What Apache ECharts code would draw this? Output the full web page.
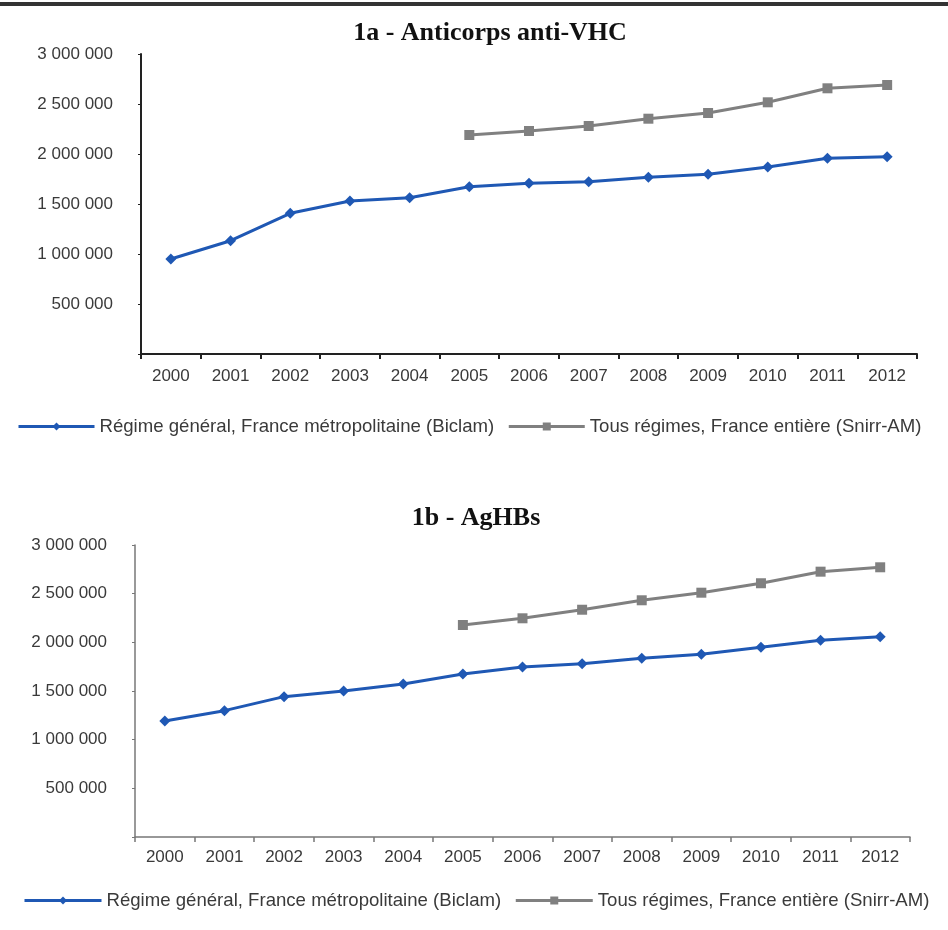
<!DOCTYPE html>
<html>
<head>
<meta charset="utf-8">
<script src="https://cdn.jsdelivr.net/npm/echarts@6/dist/echarts.min.js"></script>
<style>
html,body{margin:0;padding:0;background:#fff;}
#main{width:948px;height:930px;}
</style>
</head>
<body>
<div id="main"></div>
<script>
var years = ['2000','2001','2002','2003','2004','2005','2006','2007','2008','2009','2010','2011','2012'];
var titleA = '1a - Anticorps anti-VHC';
var titleB = '1b - AgHBs';
var nameBlue = 'Régime général, France métropolitaine (Biclam)';
var nameGrey = 'Tous régimes, France entière (Snirr-AM)';
// 1a - Anticorps anti-VHC
var aBiclam = [950000, 1133000, 1407000, 1530000, 1563000, 1673000, 1707000, 1723000, 1767000, 1797000, 1870000, 1957000, 1973000];
var aSnirr  = [null, null, null, null, null, 2190000, 2230000, 2280000, 2353000, 2410000, 2517000, 2657000, 2690000];
// 1b - AgHBs
var bBiclam = [1192000, 1298000, 1442000, 1500000, 1572000, 1675000, 1747000, 1781000, 1836000, 1877000, 1949000, 2021000, 2058000];
var bSnirr  = [null, null, null, null, null, 2178000, 2247000, 2335000, 2432000, 2510000, 2607000, 2726000, 2771000];
var yMin = 0, yMax = 3000000, yStep = 500000;

function fmt(v){
  if (v === 0) return '';
  return String(v).replace(/\B(?=(\d{3})+(?!\d))/g, ' ');
}
var BLUE = '#1f58b4', GREY = '#808080';
var txt = {color:'#3a3a3a', fontFamily:'Liberation Sans', fontSize:17};

function xAx(gi, axisColor, w, margin){
  return {type:'category', gridIndex:gi, data:years, boundaryGap:true,
    axisLine:{lineStyle:{color:axisColor, width:w}},
    axisTick:{show:true, length:5, lineStyle:{color:axisColor, width:w}},
    axisLabel:Object.assign({margin:margin}, txt)};
}
function yAx(gi, axisColor, w){
  return {type:'value', gridIndex:gi, min:yMin, max:yMax, interval:yStep,
    splitLine:{show:false},
    axisLine:{show:true, lineStyle:{color:axisColor, width:w}},
    axisTick:{show:true, length:3, lineStyle:{color:axisColor, width:1}},
    axisLabel:Object.assign({margin:28, formatter:fmt}, txt)};
}
function ser(name, data, gi, color, sym, size){
  return {name:name, type:'line', xAxisIndex:gi, yAxisIndex:gi, data:data,
    symbol:sym, symbolSize:size, showSymbol:true, connectNulls:false,
    lineStyle:{color:color, width:3}, itemStyle:{color:color}, z:3, animation:false};
}
var legTxt = Object.assign({}, txt, {fontSize:18.6});
var chart = echarts.init(document.getElementById('main'));
chart.setOption({
  animation:false,
  backgroundColor:'#fff',
  title:[
    {text:titleA, left:490, textAlign:'center', top:20, padding:0, textStyle:{fontFamily:'Liberation Serif', fontWeight:'bold', fontSize:26, color:'#111'}},
    {text:titleB, left:476, textAlign:'center', top:505, padding:0, textStyle:{fontFamily:'Liberation Serif', fontWeight:'bold', fontSize:26, color:'#111'}}
  ],
  graphic:[{type:'rect', shape:{x:0, y:2, width:948, height:4}, style:{fill:'#333'}}],
  legend:[
    {left:17, top:417, padding:0, itemWidth:76, itemHeight:10, itemGap:13,
     lineStyle:{width:3}, data:[nameBlue, nameGrey], textStyle:legTxt},
    {left:23, top:891, padding:0, itemWidth:77, itemHeight:10, itemGap:13,
     lineStyle:{width:3}, data:[nameBlue, nameGrey], textStyle:legTxt}
  ],
  grid:[
    {left:141, right:31, top:54, height:300, containLabel:false},
    {left:135, right:38, top:545, height:292, containLabel:false}
  ],
  xAxis:[xAx(0,'#222',2,14), xAx(1,'#777',1.5,12)],
  yAxis:[yAx(0,'#222',2), yAx(1,'#777',1.5)],
  series:[
    ser(nameBlue, aBiclam, 0, BLUE, 'diamond', 11),
    ser(nameGrey, aSnirr, 0, GREY, 'rect', 10),
    ser(nameBlue, bBiclam, 1, BLUE, 'diamond', 11),
    ser(nameGrey, bSnirr, 1, GREY, 'rect', 10)
  ]
});
</script>
</body>
</html>
